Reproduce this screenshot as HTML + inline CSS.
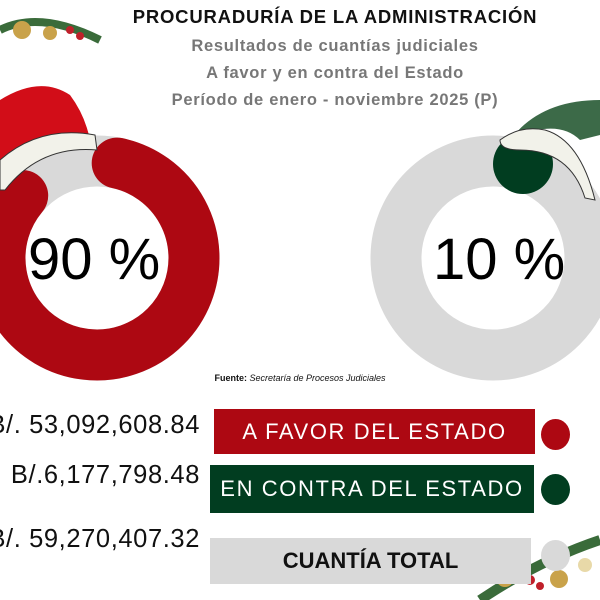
<!DOCTYPE html>
<html><head><meta charset="utf-8"><style>
body{margin:0;width:600px;height:600px;background:#fff;overflow:hidden;position:relative;font-family:"Liberation Sans",sans-serif}
.t{position:absolute;left:0;width:670px;text-align:center;font-weight:bold;white-space:nowrap}
.v{position:absolute;right:400px;font-size:25.5px;letter-spacing:0.6px;color:#111;white-space:nowrap}
.b{position:absolute;color:#fff;font-size:22px;letter-spacing:1.6px;text-align:center}
.c{position:absolute;width:29px;height:31px;border-radius:50%}
</style></head><body>
<svg width="600" height="600" style="position:absolute;left:0;top:0">
<circle cx="97" cy="258" r="97" fill="none" stroke="#d9d9d9" stroke-width="51"/>
<path d="M117.2 163.1 A97 97 0 1 1 22.7 195.6" fill="none" stroke="#ad0812" stroke-width="51" stroke-linecap="round"/>
<circle cx="493" cy="258" r="97" fill="none" stroke="#d9d9d9" stroke-width="51"/>
<circle cx="523" cy="164" r="30" fill="#013d20"/>
<path d="M0 100 Q40 75 70 95 Q85 115 90 140 L30 150 L0 165Z" fill="#d20d18"/>
<path d="M0 160 Q40 125 95 135 L97 150 Q40 145 5 190 L0 190Z" fill="#f2f2ea" stroke="#333" stroke-width="1"/>
<path d="M510 140 Q540 100 600 100 L600 135 L580 140 Q560 120 520 135Z" fill="#3c6a48"/>
<path d="M500 140 Q520 125 545 130 Q580 140 595 200 L585 198 Q570 150 520 150 Q500 150 500 140Z" fill="#f2f2ea" stroke="#333" stroke-width="1"/>
<g><path d="M0 30 Q40 10 100 40" stroke="#3a6b3a" stroke-width="8" fill="none"/><circle cx="22" cy="30" r="9" fill="#c9a24a"/><circle cx="50" cy="33" r="7" fill="#c9a24a"/><circle cx="70" cy="30" r="4" fill="#c0202a"/><circle cx="80" cy="36" r="4" fill="#c0202a"/></g>
<g><path d="M480 600 Q540 560 600 540" stroke="#3a6b3a" stroke-width="10" fill="none"/><circle cx="505" cy="578" r="9" fill="#c9a24a"/><circle cx="559" cy="579" r="9" fill="#c9a24a"/><circle cx="530" cy="580" r="5" fill="#c0202a"/><circle cx="540" cy="586" r="4" fill="#c0202a"/><circle cx="585" cy="565" r="7" fill="#e8d9a8"/></g>
</svg>
<div class="t" style="top:6px;font-size:18.5px;letter-spacing:0.8px;color:#111">PROCURADURÍA DE LA ADMINISTRACIÓN</div>
<div class="t" style="top:37px;font-size:16.5px;letter-spacing:0.7px;color:#777">Resultados de cuantías judiciales</div>
<div class="t" style="top:64px;font-size:16.5px;letter-spacing:0.7px;color:#777">A favor y en contra del Estado</div>
<div class="t" style="top:91px;font-size:16.5px;letter-spacing:0.7px;color:#777">Período de enero - noviembre 2025 (P)</div>
<div style="position:absolute;left:28px;top:226px;font-size:58px;color:#000">90 %</div>
<div style="position:absolute;left:433px;top:226px;font-size:58px;color:#000">10 %</div>
<div style="position:absolute;left:0;width:600px;top:373px;text-align:center;font-size:9px;color:#111"><b>Fuente:</b> <i>Secretaría de Procesos Judiciales</i></div>
<div class="v" style="top:411px">B/. 53,092,608.84</div>
<div class="v" style="top:461px">B/.6,177,798.48</div>
<div class="v" style="top:525px">B/. 59,270,407.32</div>
<div class="b" style="left:214px;top:409px;width:321px;height:45px;line-height:45px;background:#ad0812">A FAVOR DEL ESTADO</div>
<div class="b" style="left:210px;top:465px;width:324px;height:48px;line-height:48px;background:#013d20">EN CONTRA DEL ESTADO</div>
<div class="b" style="left:210px;top:538px;width:321px;height:46px;line-height:46px;background:#d9d9d9;color:#111;font-weight:bold;letter-spacing:0">CUANTÍA TOTAL</div>
<div class="c" style="left:541px;top:419px;background:#ad0812"></div>
<div class="c" style="left:541px;top:474px;background:#013d20"></div>
<div class="c" style="left:541px;top:540px;background:#d9d9d9"></div>
</body></html>
